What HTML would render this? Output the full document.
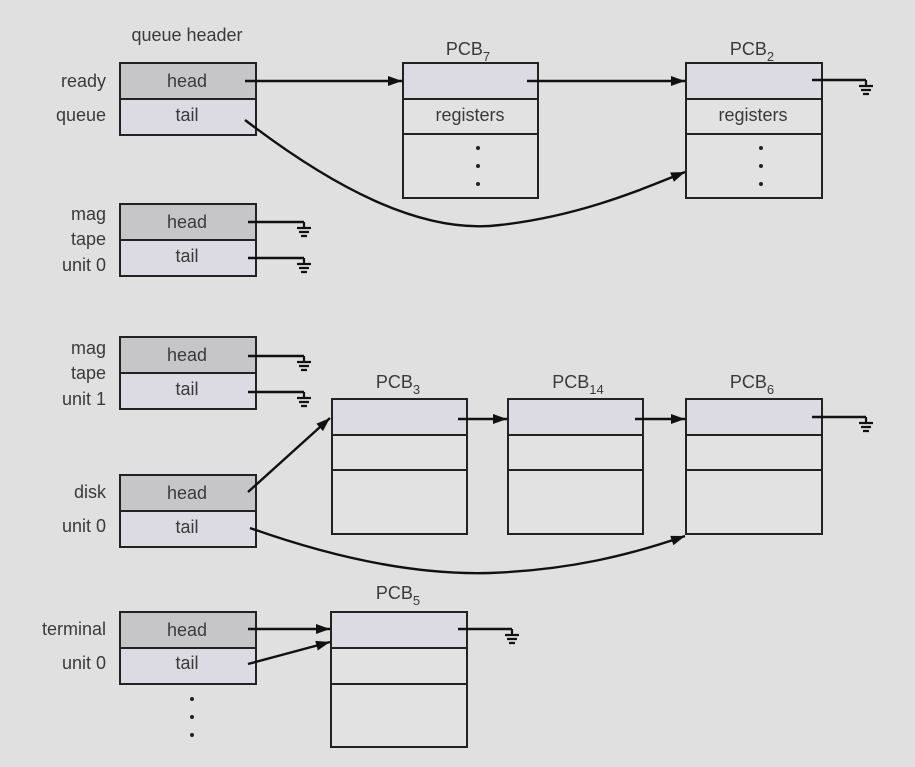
<!DOCTYPE html>
<html><head><meta charset="utf-8"><style>
html,body{margin:0;padding:0;background:#e0e0e0;}
svg{display:block;}
text{font-family:"Liberation Sans",sans-serif;fill:#3a3a3a;font-size:18px;}
</style></head><body>
<svg width="915" height="767" viewBox="0 0 915 767" xmlns="http://www.w3.org/2000/svg">
<defs>
<marker id="a" markerWidth="14" markerHeight="10" refX="14" refY="5" orient="auto" markerUnits="userSpaceOnUse" viewBox="0 0 14 10">
<path d="M0,0 L14,5 L0,10 z" fill="#111"/></marker>
<g id="gnd" stroke="#111" stroke-width="2.2" fill="none">
<path d="M0,0 V6 M-7,6 H7 M-5,10 H5 M-3,14 H3"/></g>
</defs>
<rect width="915" height="767" fill="#e0e0e0"/>
<g stroke="#222" stroke-width="2">
<rect x="120" y="63" width="136" height="36" fill="#c6c6c8"/><rect x="120" y="99" width="136" height="36" fill="#dcdae2"/>
<rect x="120" y="204" width="136" height="36" fill="#c6c6c8"/><rect x="120" y="240" width="136" height="36" fill="#dcdae2"/>
<rect x="120" y="337" width="136" height="36" fill="#c6c6c8"/><rect x="120" y="373" width="136" height="36" fill="#dcdae2"/>
<rect x="120" y="475" width="136" height="36" fill="#c6c6c8"/><rect x="120" y="511" width="136" height="36" fill="#dcdae2"/>
<rect x="120" y="612" width="136" height="36" fill="#c6c6c8"/><rect x="120" y="648" width="136" height="36" fill="#dcdae2"/>
<rect x="403" y="63" width="135" height="36" fill="#dcdae2"/><rect x="403" y="99" width="135" height="35" fill="#e2e2e2"/><rect x="403" y="134" width="135" height="64" fill="#e2e2e2"/>
<rect x="686" y="63" width="136" height="36" fill="#dcdae2"/><rect x="686" y="99" width="136" height="35" fill="#e2e2e2"/><rect x="686" y="134" width="136" height="64" fill="#e2e2e2"/>
<rect x="332" y="399" width="135" height="36" fill="#dcdae2"/><rect x="332" y="435" width="135" height="35" fill="#e2e2e2"/><rect x="332" y="470" width="135" height="64" fill="#e2e2e2"/>
<rect x="508" y="399" width="135" height="36" fill="#dcdae2"/><rect x="508" y="435" width="135" height="35" fill="#e2e2e2"/><rect x="508" y="470" width="135" height="64" fill="#e2e2e2"/>
<rect x="686" y="399" width="136" height="36" fill="#dcdae2"/><rect x="686" y="435" width="136" height="35" fill="#e2e2e2"/><rect x="686" y="470" width="136" height="64" fill="#e2e2e2"/>
<rect x="331" y="612" width="136" height="36" fill="#dcdae2"/><rect x="331" y="648" width="136" height="36" fill="#e2e2e2"/><rect x="331" y="684" width="136" height="63" fill="#e2e2e2"/>
</g>
<g stroke="#111" stroke-width="2.4" fill="none">
<path d="M245,81 H402" marker-end="url(#a)"/>
<path d="M527,81 H685" marker-end="url(#a)"/>
<path d="M245,120 C330,185 420,235 500,225 C580,216 640,190 685,172" marker-end="url(#a)"/>
<path d="M812,80 H866"/>
<path d="M248,222 H304"/><path d="M248,258 H304"/>
<path d="M248,356 H304"/><path d="M248,392 H304"/>
<path d="M248,492 L330,418" marker-end="url(#a)"/>
<path d="M458,419 H507" marker-end="url(#a)"/>
<path d="M635,419 H685" marker-end="url(#a)"/>
<path d="M812,417 H866"/>
<path d="M250,528 C340,560 420,575 490,573 C570,570 630,555 685,536" marker-end="url(#a)"/>
<path d="M248,629 H330" marker-end="url(#a)"/>
<path d="M248,664 L330,642" marker-end="url(#a)"/>
<path d="M458,629 H512"/>
</g>
<use href="#gnd" x="866" y="80"/>
<use href="#gnd" x="304" y="222"/><use href="#gnd" x="304" y="258"/>
<use href="#gnd" x="304" y="356"/><use href="#gnd" x="304" y="392"/>
<use href="#gnd" x="866" y="417"/>
<use href="#gnd" x="512" y="629"/>
<g fill="#222">
<circle cx="478" cy="148" r="2"/><circle cx="478" cy="166" r="2"/><circle cx="478" cy="184" r="2"/>
<circle cx="761" cy="148" r="2"/><circle cx="761" cy="166" r="2"/><circle cx="761" cy="184" r="2"/>
<circle cx="192" cy="699" r="2"/><circle cx="192" cy="717" r="2"/><circle cx="192" cy="735" r="2"/>
</g>
<text x="187" y="41" text-anchor="middle">queue header</text>
<g text-anchor="middle">
<text x="187" y="87">head</text><text x="187" y="121">tail</text>
<text x="187" y="228">head</text><text x="187" y="262">tail</text>
<text x="187" y="361">head</text><text x="187" y="395">tail</text>
<text x="187" y="499">head</text><text x="187" y="533">tail</text>
<text x="187" y="636">head</text><text x="187" y="669">tail</text>
<text x="470" y="121">registers</text><text x="753" y="121">registers</text>
<text x="468" y="55">PCB<tspan font-size="13" dy="6">7</tspan></text>
<text x="752" y="55">PCB<tspan font-size="13" dy="6">2</tspan></text>
<text x="398" y="388">PCB<tspan font-size="13" dy="6">3</tspan></text>
<text x="578" y="388">PCB<tspan font-size="13" dy="6">14</tspan></text>
<text x="752" y="388">PCB<tspan font-size="13" dy="6">6</tspan></text>
<text x="398" y="599">PCB<tspan font-size="13" dy="6">5</tspan></text>
</g>
<g text-anchor="end">
<text x="106" y="87">ready</text><text x="106" y="121">queue</text>
<text x="106" y="220">mag</text><text x="106" y="245">tape</text><text x="106" y="271">unit 0</text>
<text x="106" y="354">mag</text><text x="106" y="379">tape</text><text x="106" y="405">unit 1</text>
<text x="106" y="498">disk</text><text x="106" y="532">unit 0</text>
<text x="106" y="635">terminal</text><text x="106" y="669">unit 0</text>
</g>
</svg>
</body></html>
